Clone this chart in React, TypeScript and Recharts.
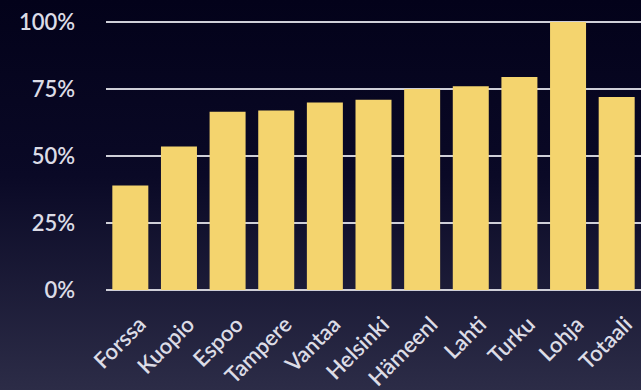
import React from 'react';
import { BarChart, Bar, XAxis, YAxis, CartesianGrid } from 'recharts';

const cities = ['Forssa', 'Kuopio', 'Espoo', 'Tampere', 'Vantaa', 'Helsinki', 'Hämeenl', 'Lahti', 'Turku', 'Lohja', 'Totaali'];
const shares = [39, 53.5, 66.5, 67, 70, 71, 75, 76, 79.5, 100, 72];
const yTicks = [0, 25, 50, 75, 100];

const data = cities.map((c, i) => ({ city: c, value: shares[i] }));

const XTick = (props: any) => {
  const { x, y, payload } = props;
  const ax = x + 17;
  const ay = y + 28;
  return (
    <text x={ax} y={ay} textAnchor="end" transform={`rotate(-45 ${ax} ${ay})`}
      fill="#dcdce6" fontSize={22} fontFamily="Lato" fontWeight={600}>
      {payload.value}
    </text>
  );
};

const YTick = (props: any) => {
  const { x, y, payload } = props;
  return (
    <text x={x - 23} y={y} dy={8} textAnchor="end" fill="#dcdce6" fontSize={22}
      fontFamily="Lato" fontWeight={600}>
      {`${payload.value}%`}
    </text>
  );
};

export default function App() {
  return (
    <div style={{ position: 'absolute', left: 0, top: 0, width: 641, height: 390,
      background: 'linear-gradient(to bottom, #03021a 0%, #0a0926 45%, #2c2c47 100%)' }}>
      <BarChart width={641} height={390} data={data}
        margin={{ top: 22, right: 0, left: 0, bottom: 0 }} barCategoryGap="13%">
        <CartesianGrid vertical={false} stroke="#cfcfd8" strokeWidth={2} />
        <XAxis dataKey="city" height={100} tickLine={false} axisLine={false}
          tick={<XTick />} interval={0} />
        <YAxis width={106} domain={[0, 100]} ticks={yTicks} tickLine={false}
          axisLine={false} tick={<YTick />} />
        <Bar dataKey="value" fill="#f4d46e" isAnimationActive={false} />
      </BarChart>
    </div>
  );
}
